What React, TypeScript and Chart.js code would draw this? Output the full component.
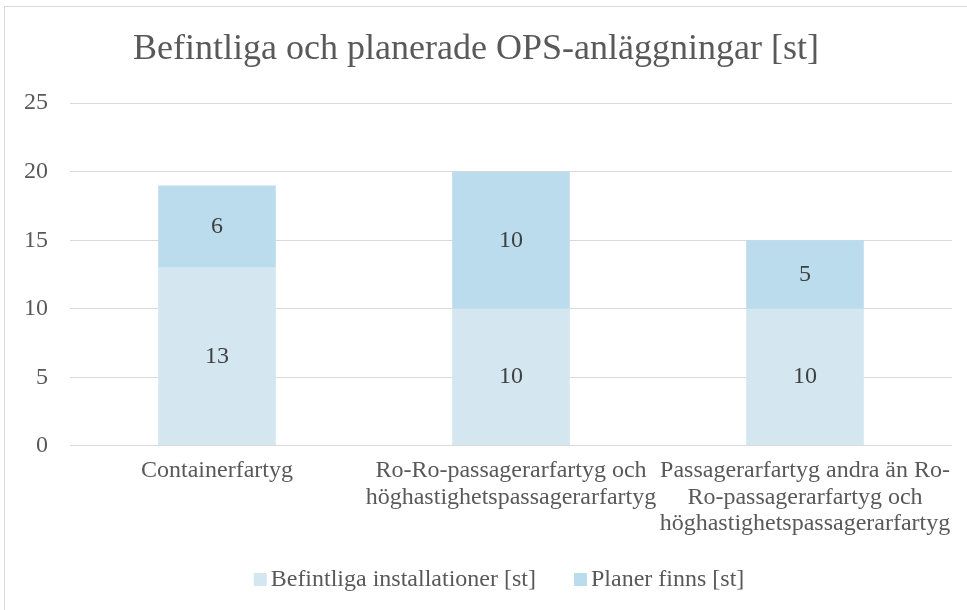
import React, { useEffect, useRef } from "react";
import { Chart, registerables } from "chart.js";

Chart.register(...registerables);

const TITLE = "Befintliga och planerade OPS-anläggningar [st]";
const categories: string[][] = [
  ["Containerfartyg"],
  ["Ro-Ro-passagerarfartyg och", "höghastighetspassagerarfartyg"],
  ["Passagerarfartyg andra än Ro-", "Ro-passagerarfartyg och", "höghastighetspassagerarfartyg"],
];
const seriesNames = ["Befintliga installationer [st]", "Planer finns [st]"];
const existing = [13, 10, 10];
const planned = [6, 10, 5];
const yTicks = [0, 5, 10, 15, 20, 25];

const FONT = "'Liberation Serif', 'Times New Roman', serif";
const TEXT = "#595959";
const COLORS = ["#d4e6ef", "#bbdcec"];

const dataLabels = {
  id: "dataLabels",
  afterDatasetsDraw(chart: any) {
    const ctx = chart.ctx;
    ctx.save();
    ctx.font = `24px ${FONT}`;
    ctx.fillStyle = "#404040";
    ctx.textAlign = "center";
    ctx.textBaseline = "middle";
    chart.data.datasets.forEach((ds: any, i: number) => {
      const meta = chart.getDatasetMeta(i);
      meta.data.forEach((el: any, j: number) => {
        ctx.fillText(String(ds.data[j]), el.x, (el.y + el.base) / 2);
      });
    });
    ctx.restore();
  },
};

const customLegend = {
  id: "customLegend",
  afterDraw(chart: any) {
    const ctx = chart.ctx;
    ctx.save();
    ctx.font = `24px ${FONT}`;
    ctx.textBaseline = "middle";
    ctx.textAlign = "left";
    const box = 13;
    const gap = 4;
    const between = 38;
    const ds = chart.data.datasets;
    const widths = ds.map((d: any) => ctx.measureText(d.label).width);
    let total = 0;
    widths.forEach((w: number, i: number) => {
      total += box + gap + w + (i < widths.length - 1 ? between : 0);
    });
    const centerX = 499;
    const cy = 579.5;
    let x = centerX - total / 2;
    ds.forEach((d: any, i: number) => {
      ctx.fillStyle = d.backgroundColor;
      ctx.fillRect(x, cy - box / 2, box, box);
      x += box + gap;
      ctx.fillStyle = TEXT;
      ctx.fillText(d.label, x, cy);
      x += widths[i] + between;
    });
    ctx.restore();
  },
};

export default function App() {
  const ref = useRef<HTMLCanvasElement>(null);
  useEffect(() => {
    if (!ref.current) return;
    const chart = new Chart(ref.current, {
      type: "bar",
      data: {
        labels: categories,
        datasets: [
          { label: seriesNames[0], data: existing, backgroundColor: COLORS[0], categoryPercentage: 1, barPercentage: 0.4 },
          { label: seriesNames[1], data: planned, backgroundColor: COLORS[1], categoryPercentage: 1, barPercentage: 0.4 },
        ],
      },
      options: {
        responsive: false,
        animation: false,
        layout: { padding: { left: 0, right: 15, top: 0, bottom: 61 } },
        plugins: {
          title: {
            display: true,
            text: TITLE,
            color: TEXT,
            font: { family: FONT, size: 36, weight: "normal", lineHeight: 1.2 },
            padding: { top: 28, bottom: 32 },
          },
          legend: { display: false },
          tooltip: { enabled: false },
        },
        scales: {
          x: {
            stacked: true,
            grid: { display: false, drawTicks: false },
            border: { display: false },
            ticks: {
              color: TEXT,
              font: { family: FONT, size: 24, lineHeight: 1.1 },
              maxRotation: 0,
              autoSkip: false,
              padding: 12,
            },
          },
          y: {
            stacked: true,
            min: 0,
            max: 25,
            grid: { color: "#d9d9d9", lineWidth: 1, drawTicks: false },
            border: { display: false },
            ticks: {
              stepSize: 5,
              color: TEXT,
              font: { family: FONT, size: 24 },
              padding: 22,
              callback: (v: any) => (yTicks.includes(Number(v)) ? String(v) : ""),
            },
            afterFit: (s: any) => {
              s.width = 70;
            },
          },
        },
      } as any,
      plugins: [dataLabels, customLegend],
    });
    return () => chart.destroy();
  }, []);
  return (
    <div style={{ position: "absolute", left: 0, top: 0, width: 967, height: 610, overflow: "hidden", background: "#fff" }}>
      <div style={{ position: "absolute", left: 4, top: 6, width: 1000, height: 700, border: "1px solid #d9d9d9", boxSizing: "border-box" }} />
      <canvas ref={ref} width={967} height={610} style={{ position: "absolute", left: 0, top: 0 }} />
    </div>
  );
}
